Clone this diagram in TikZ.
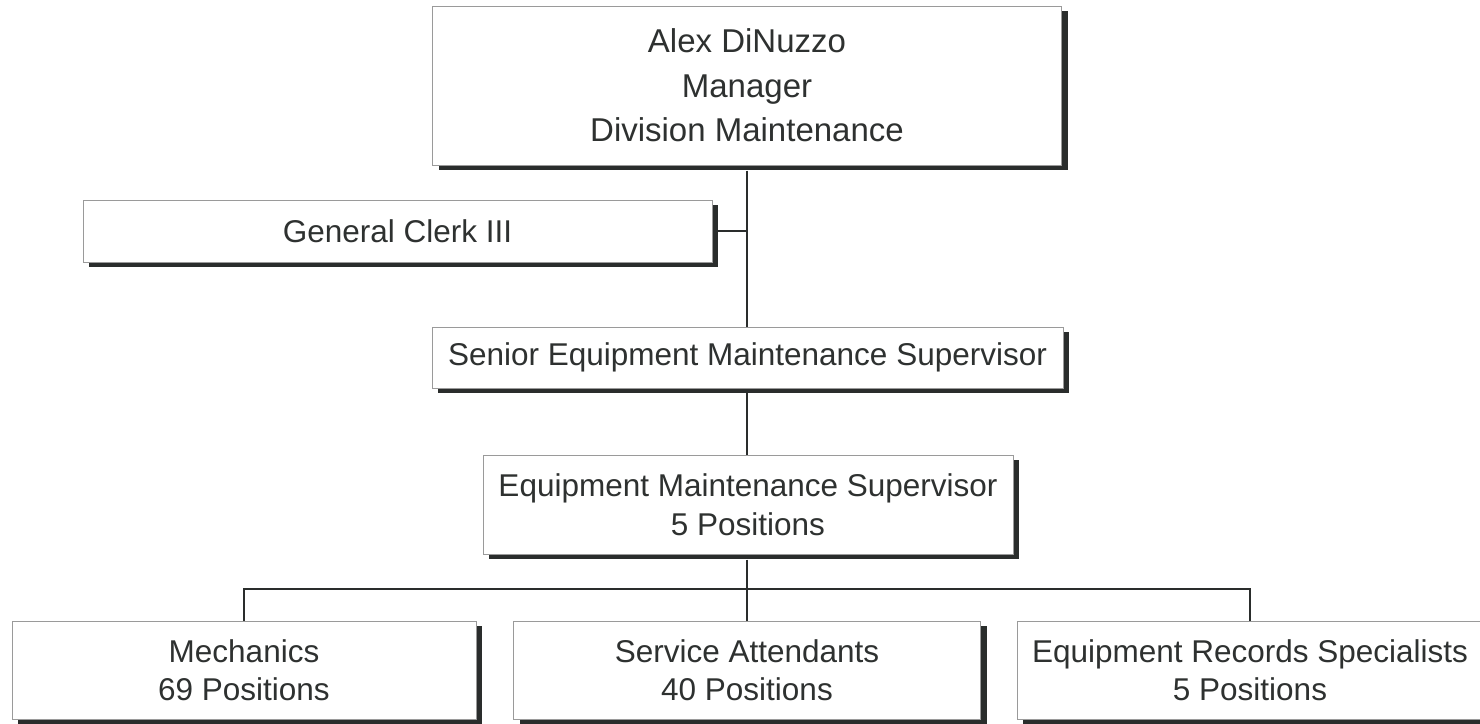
\documentclass[tikz,border=0pt]{standalone}
\usepackage{fontspec}
\setmainfont{Liberation Sans}
\usetikzlibrary{shadows}
\definecolor{ink}{HTML}{2E3130}
\definecolor{edge}{HTML}{9A9A9A}
\definecolor{shade}{HTML}{2A2D2C}
\tikzset{
  orgbox/.style={draw=edge, line width=1pt, fill=white, inner sep=0pt, align=center,
    text=ink, font=\fontsize{31.5}{38.5}\selectfont,
    drop shadow={shadow xshift=6pt, shadow yshift=-5pt, fill=shade, opacity=1}},
  topbox/.style={orgbox, font=\fontsize{33}{44.5}\selectfont},
  link/.style={draw=shade, line width=2.4pt}
}
\begin{document}
\begin{tikzpicture}[x=1pt,y=-1pt]
\useasboundingbox (0,0) rectangle (1480,723);
\coordinate (bus) at (747,589);
\node[topbox, minimum width=629pt, minimum height=159pt] (top) at (747,85.5)
  {Alex DiNuzzo\\Manager\\Division Maintenance};
\node[orgbox, minimum width=629pt, minimum height=62pt] (clerk) at (397.5,231)
  {General Clerk III};
\node[orgbox, minimum width=631pt, minimum height=61pt] (senior) at (747.5,357.5)
  {Senior Equipment Maintenance Supervisor};
\node[orgbox, minimum width=530pt, minimum height=99pt] (ems) at (748,504.5)
  {Equipment Maintenance Supervisor\\5 Positions};
\node[orgbox, minimum width=464pt, minimum height=98pt] (mech) at (244,670)
  {Mechanics\\69 Positions};
\node[orgbox, minimum width=467pt, minimum height=98pt] (serv) at (747,670)
  {Service Attendants\\40 Positions};
\node[orgbox, minimum width=466pt, minimum height=98pt] (rec) at (1250,670)
  {Equipment Records Specialists\\5 Positions};
\draw[link] ([yshift=-5pt]top.south -| bus) -- (senior.north -| bus);
\draw[link] ([xshift=5pt]clerk.east) -- (clerk.east -| bus);
\draw[link] ([yshift=-4pt]senior.south -| bus) -- (ems.north -| bus);
\draw[link] ([yshift=-5pt]ems.south -| bus) -- (bus);
\draw[link] (mech.north) |- (bus) -| (rec.north);
\draw[link] (bus) -- (serv.north -| bus);
\end{tikzpicture}
\end{document}
